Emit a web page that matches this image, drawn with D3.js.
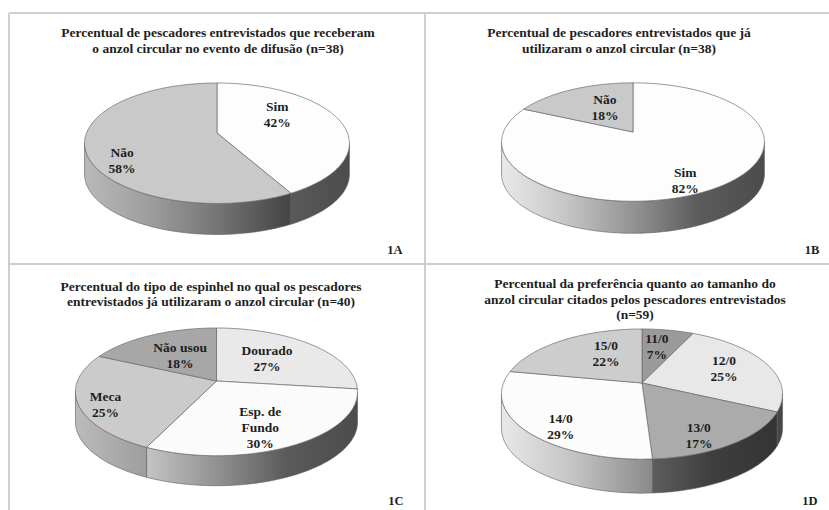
<!DOCTYPE html>
<html>
<head>
<meta charset="utf-8">
<script src="https://cdn.jsdelivr.net/npm/d3@7"></script>
<style>
  body { margin: 0; background: #fff; }
  svg text { font-family: "Liberation Serif", "Times New Roman", serif; font-weight: bold; fill: #1e1e1e; }
</style>
</head>
<body>
<svg id="chart" width="829" height="510"></svg>
<script>
// data
const titleA = ["Percentual de pescadores entrevistados que receberam", "o anzol circular no evento de difusão (n=38)"];
const labelsA = ["Sim", "Não"];
const valuesA = [42, 58];

const titleB = ["Percentual de pescadores entrevistados que já", "utilizaram o anzol circular (n=38)"];
const labelsB = ["Sim", "Não"];
const valuesB = [82, 18];

const titleC = ["Percentual do tipo de espinhel no qual os pescadores", "entrevistados já utilizaram o anzol circular (n=40)"];
const labelsC = ["Dourado", "Esp. de\nFundo", "Meca", "Não usou"];
const valuesC = [27, 30, 25, 18];

const titleD = ["Percentual da preferência quanto ao tamanho do", "anzol circular citados pelos pescadores entrevistados", "(n=59)"];
const labelsD = ["11/0", "12/0", "13/0", "14/0", "15/0"];
const valuesD = [7, 25, 17, 29, 22];

// styles
const shadesA = ["#fdfdfd", "#c9c9c9"];
const shadesB = ["#fdfdfd", "#c9c9c9"];
const shadesC = ["#e9e9e9", "#fbfbfb", "#cbcbcb", "#a7a7a7"];
const shadesD = ["#9a9a9a", "#e8e8e8", "#ababab", "#fcfcfc", "#cdcdcd"];

// small label nudges (px) from the computed mid-slice anchor
const nudgeA = [[-16, -9.5], [-14.5, 18.5]];
const nudgeB = [[5, 15], [11.5, 3.6]];
const nudgeC = [[-10, 1.5], [-2, 9.5], [-27, 9.5], [6, 4.5]];
const nudgeD = [[-2, -2.3], [4, -2], [4, 17], [-12, 16], [14.6, -2]];

const panels = [
  {tag: "1A", title: titleA, labels: labelsA, values: valuesA, shades: shadesA, nudge: nudgeA,
   cx: 217, cy: 133, rx: 130.5, ry: 58.5, depth: 31, tx: 218, ty: 37, tagX: 395, tagY: 254},
  {tag: "1B", title: titleB, labels: labelsB, values: valuesB, shades: shadesB, nudge: nudgeB,
   cx: 633, cy: 132, rx: 129.5, ry: 57.5, depth: 32, tx: 619, ty: 37, tagX: 812, tagY: 254},
  {tag: "1C", title: titleC, labels: labelsC, values: valuesC, shades: shadesC, nudge: nudgeC,
   cx: 216.5, cy: 381, rx: 139, ry: 62, depth: 30, tx: 211, ty: 290.5, tagX: 396, tagY: 505},
  {tag: "1D", title: titleD, labels: labelsD, values: valuesD, shades: shadesD, nudge: nudgeD,
   cx: 642, cy: 383, rx: 138.5, ry: 63.2, depth: 34, tx: 635, ty: 288, tagX: 810, tagY: 505}
];

const K = 0.17; // perspective squeeze of the far half
const svg = d3.select("#chart");
const defs = svg.append("defs");

// frame lines
const frame = svg.append("g").attr("stroke", "#cfcfcf").attr("stroke-width", 2);
frame.append("line").attr("x1", 9).attr("x2", 829).attr("y1", 13).attr("y2", 13);
frame.append("line").attr("x1", 9).attr("x2", 829).attr("y1", 264).attr("y2", 264);
frame.append("line").attr("x1", 9).attr("x2", 9).attr("y1", 13).attr("y2", 510);
frame.append("line").attr("x1", 425).attr("x2", 425).attr("y1", 13).attr("y2", 510);

// light falling off from left to right on the pie walls
const light = d3.scaleLinear().domain([0, 0.25, 0.5, 0.75, 1]).range([0.92, 0.78, 0.58, 0.36, 0.3]);

const pie = d3.pie().sort(null).value(d => d);
const line = d3.line();

function proj(p, ang, r, drop) {
  const u = r * Math.sin(ang), v = -r * Math.cos(ang), w = 1 - K * v;
  return [p.cx + p.rx * u / w, p.cy + p.ry * v / w + (drop || 0)];
}

function rim(p, a0, a1, drop) {
  const n = Math.max(2, Math.ceil(Math.abs(a1 - a0) / 0.02));
  return d3.range(n + 1).map(i => proj(p, a0 + (a1 - a0) * i / n, 1, drop));
}

const vis0 = Math.acos(-K), vis1 = 2 * Math.PI - Math.acos(-K);

panels.forEach((p, pi) => {
  const g = svg.append("g");
  const arcs = pie(p.values);
  const halfW = p.rx / Math.sqrt(1 - K * K);

  // walls
  arcs.forEach((a, i) => {
    const s = Math.max(a.startAngle, vis0), e = Math.min(a.endAngle, vis1);
    if (s >= e) return;
    const id = "wall" + pi + "_" + i;
    const grad = defs.append("linearGradient").attr("id", id)
      .attr("gradientUnits", "userSpaceOnUse")
      .attr("x1", p.cx - halfW).attr("x2", p.cx + halfW).attr("y1", 0).attr("y2", 0);
    light.domain().forEach(t => {
      grad.append("stop").attr("offset", t)
        .attr("stop-color", d3.interpolateRgb("#000", p.shades[i])(light(t)));
    });
    const pts = rim(p, s, e, 0).concat(rim(p, e, s, p.depth));
    g.append("path").attr("d", line(pts) + "Z")
      .attr("fill", "url(#" + id + ")")
      .attr("stroke", "#5c5c5c").attr("stroke-width", 0.6);
  });

  // top face
  arcs.forEach((a, i) => {
    const pts = [[p.cx, p.cy]].concat(rim(p, a.startAngle, a.endAngle, 0));
    g.append("path").attr("d", line(pts) + "Z")
      .attr("fill", p.shades[i])
      .attr("stroke", "#6a6a6a").attr("stroke-width", 0.7)
      .attr("stroke-linejoin", "round");
  });

  // slice labels
  arcs.forEach((a, i) => {
    const mid = (a.startAngle + a.endAngle) / 2;
    const c = proj(p, mid, 0.62, 0);
    const x = c[0] + p.nudge[i][0], y = c[1] + p.nudge[i][1];
    const lines = p.labels[i].split("\n").concat([p.values[i] + "%"]);
    const t = g.append("text").attr("text-anchor", "middle").attr("font-size", 13.5);
    lines.forEach((s, j) => {
      t.append("tspan").attr("x", x)
        .attr("y", y - (lines.length - 1) * 8 + 4.5 + j * 16)
        .text(s);
    });
  });

  // title
  const tt = g.append("text").attr("text-anchor", "middle").attr("font-size", 13.5);
  p.title.forEach((s, j) => {
    tt.append("tspan").attr("x", p.tx).attr("y", p.ty + j * 15.5).text(s);
  });

  // panel tag
  g.append("text").attr("x", p.tagX).attr("y", p.tagY)
    .attr("text-anchor", "middle").attr("font-size", 12.5).text(p.tag);
});
</script>
</body>
</html>
